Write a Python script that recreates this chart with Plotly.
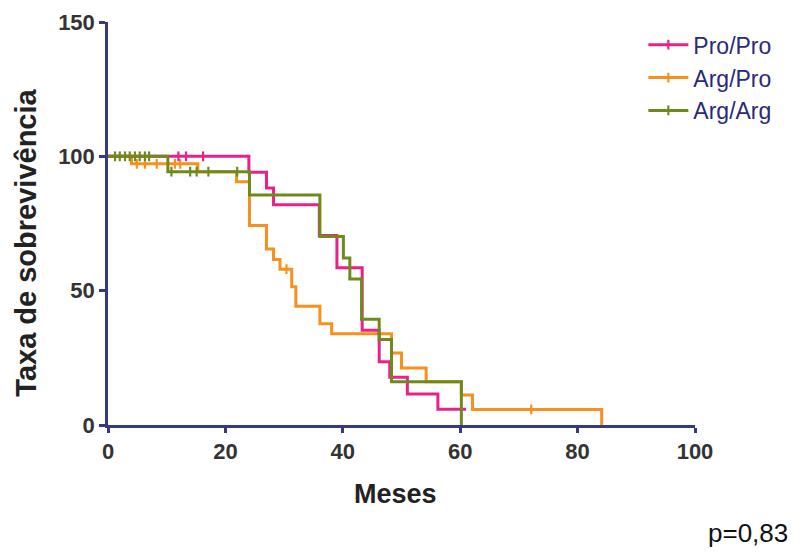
import plotly.graph_objects as go

# ---- data ----
series_names = ["Pro/Pro", "Arg/Pro", "Arg/Arg"]

# Pro/Pro step curve
pro_t = [0, 24.0, 27.0, 28.2, 36.0, 39.0, 43.3, 46.2, 48.0, 51.0, 56.2, 61.0]
pro_s = [100, 94.1, 88.2, 82.0, 70.5, 58.5, 35.3, 23.5, 17.8, 11.5, 5.9, 5.9]
pro_cens_t = [12.0, 13.3, 16.2]
pro_cens_s = [100, 100, 100]

# Arg/Pro step curve
argpro_t = [0, 4.0, 15.3, 21.9, 24.1, 27.0, 28.2, 29.3, 31.3, 32.0, 36.1, 38.1,
            48.3, 50.0, 54.2, 60.2, 62.1, 84.1]
argpro_s = [100, 97.2, 94.3, 90.5, 74.3, 65.5, 61.6, 58.0, 51.5, 44.2, 37.7, 34.0,
            26.8, 21.2, 16.1, 11.2, 5.8, 0]
argpro_cens_t = [4.9, 6.3, 8.3, 11.4, 12.3, 30.4, 72.1]
argpro_cens_s = [97.2, 97.2, 97.2, 97.2, 97.2, 58.0, 5.8]

# Arg/Arg step curve
argarg_t = [0, 10.2, 24.1, 36.1, 40.1, 41.2, 43.2, 46.2, 48.3, 60.2]
argarg_s = [100, 94.3, 85.6, 70.2, 62.2, 54.3, 39.4, 31.8, 16.1, 0]
argarg_cens_t = [1.2, 2.0, 2.9, 3.7, 4.6, 5.4, 6.3, 7.0, 10.8, 14.0, 15.1, 17.1, 22.0]
argarg_cens_s = [100, 100, 100, 100, 100, 100, 100, 100, 94.3, 94.3, 94.3, 94.3, 94.3]

x_ticks = [0, 20, 40, 60, 80, 100]
y_ticks = [0, 50, 100, 150]
p_text = "p=0,83"
x_title = "Meses"
y_title = "Taxa de sobrevivência"

colors = ["#e8228a", "#f7901e", "#6e8a1c"]
axis_color = "#36397f"
FONT = "Liberation Sans, Arial, sans-serif"

curves = [
    (pro_t, pro_s, pro_cens_t, pro_cens_s),
    (argpro_t, argpro_s, argpro_cens_t, argpro_cens_s),
    (argarg_t, argarg_s, argarg_cens_t, argarg_cens_s),
]

fig = go.Figure()

# draw order: Arg/Pro bottom, Pro/Pro middle, Arg/Arg on top
order = [1, 0, 2]
for i in order:
    t, s, ct, cs = curves[i]
    fig.add_trace(go.Scatter(
        x=t, y=s, mode="lines", line=dict(color=colors[i], width=3, shape="hv"),
        showlegend=False, hoverinfo="skip"))
    fig.add_trace(go.Scatter(
        x=ct, y=cs, mode="markers", cliponaxis=False,
        marker=dict(symbol="line-ns", size=7, line=dict(color=colors[i], width=2.2)),
        showlegend=False, hoverinfo="skip"))

# legend entries
for i, name in enumerate(series_names):
    fig.add_trace(go.Scatter(
        x=[None], y=[None], mode="lines+markers", name=name,
        line=dict(color=colors[i], width=3),
        marker=dict(symbol="line-ns", size=7, line=dict(color=colors[i], width=2.2))))

fig.add_annotation(
    text=p_text, xref="paper", yref="paper", x=1.162, y=-0.268,
    xanchor="right", yanchor="middle", showarrow=False,
    font=dict(family=FONT, size=26, color="#111111"))

fig.add_annotation(
    text=y_title, xref="paper", yref="paper", x=-0.14, y=0.452,
    xanchor="center", yanchor="middle", textangle=-90, showarrow=False,
    font=dict(family=FONT, size=29, color="#222222", weight="bold"))

fig.add_annotation(
    text=x_title, xref="paper", yref="paper", x=0.49, y=-0.171,
    xanchor="center", yanchor="middle", showarrow=False,
    font=dict(family=FONT, size=27, color="#222222", weight="bold"))

fig.update_layout(
    width=804, height=554,
    margin=dict(l=100, r=117, t=14, b=137),
    paper_bgcolor="white", plot_bgcolor="white",
    font=dict(family=FONT, color="#333333"),
    legend=dict(x=0.912, y=0.997, xanchor="left", yanchor="top",
                font=dict(size=23, color="#2a2a78", family=FONT),
                itemwidth=40, tracegroupgap=0,
                bgcolor="rgba(0,0,0,0)"),
    xaxis=dict(range=[0, 100], tickvals=x_ticks, showgrid=False, zeroline=False,
               automargin=False,
               showline=True, linecolor=axis_color, linewidth=2.5,
               ticks="outside", ticklen=5, tickwidth=2.5, tickcolor=axis_color,
               tickfont=dict(size=22, color="#333333", family=FONT, weight="bold")),
    yaxis=dict(range=[0, 150], tickvals=y_ticks, showgrid=False, zeroline=False,
               automargin=False,
               showline=True, linecolor=axis_color, linewidth=2.5,
               ticks="outside", ticklen=6, tickwidth=2.5, tickcolor=axis_color,
               tickfont=dict(size=22, color="#333333", family=FONT, weight="bold")),
)

fig.write_html("out.html")
